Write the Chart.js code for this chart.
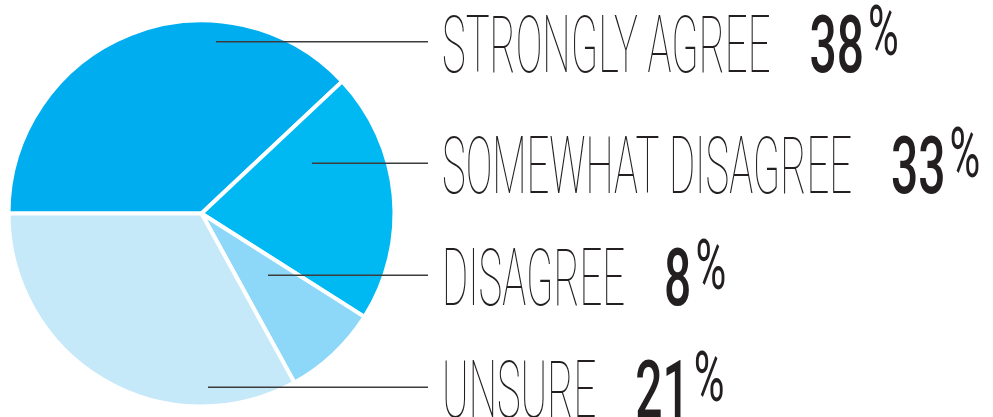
<!DOCTYPE html>
<html>
<head>
<meta charset="utf-8">
<script src="https://cdn.jsdelivr.net/npm/chart.js@4.4.1/dist/chart.umd.min.js"></script>
<style>
  html, body { margin: 0; padding: 0; background: #fff; }
  #wrap { width: 993px; height: 417px; position: relative; }
</style>
</head>
<body>
<div id="wrap"><canvas id="pie-chart"></canvas></div>
<script>
// slices, clockwise starting from the left (9 o'clock)
const sliceNames = ["Strongly agree", "Somewhat disagree", "Disagree", "Unsure"];
const sliceShares = [38, 21, 8, 33];
const sliceColors = ["#00aeef", "#00b9f2", "#8dd8f8", "#c6e9f9"];

// callout labels, top to bottom, as printed
const calloutLabels = ["STRONGLY AGREE", "SOMEWHAT DISAGREE", "DISAGREE", "UNSURE"];
const calloutPercents = ["38", "33", "8", "21"];

// Pie chart with callouts
(function () {
  const lineStartX = [216, 312, 268, 208];
  const rowY = [41.7, 163.3, 275.3, 387.3];
  const lineEndX = 428;
  const textX = 442;
  const labelScale = 0.5;
  const numScale = 0.6;

  const calloutPlugin = {
    id: "callouts",
    afterDraw(chart) {
      const ctx = chart.ctx;
      ctx.save();
      calloutLabels.forEach((label, i) => {
        const y = rowY[i];
        // leader line
        ctx.strokeStyle = "#3c3c3c";
        ctx.lineWidth = 1.5;
        ctx.beginPath();
        ctx.moveTo(lineStartX[i], y);
        ctx.lineTo(lineEndX, y);
        ctx.stroke();

        const base = y + 29.8;
        ctx.fillStyle = "#231f20";
        ctx.textBaseline = "alphabetic";
        ctx.textAlign = "left";

        // thin condensed label
        ctx.save();
        ctx.font = "100 80px Roboto";
        ctx.translate(textX, base);
        ctx.scale(labelScale, 1);
        ctx.fillText(label, 0, 0);
        const labelW = ctx.measureText(label).width * labelScale;
        ctx.restore();

        // number
        const numX = textX + labelW + 39;
        ctx.save();
        ctx.font = "500 80px Roboto";
        ctx.translate(numX, base);
        ctx.scale(numScale, 1);
        ctx.fillText(calloutPercents[i], 0, 0);
        const numW = ctx.measureText(calloutPercents[i]).width * numScale;
        ctx.restore();

        // raised percent sign
        ctx.save();
        ctx.font = "400 70px Roboto";
        ctx.translate(numX + numW + 4, y + 13.5);
        ctx.scale(0.6, 1);
        ctx.fillText("%", 0, 0);
        ctx.restore();
      });
      ctx.restore();
    },
  };

  const pieElement = document.getElementById("pie-chart");
  new Chart(pieElement, {
    type: "pie",
    data: {
      labels: sliceNames,
      datasets: [
        {
          data: sliceShares,
          backgroundColor: sliceColors,
          borderColor: "#ffffff",
          borderWidth: 4,
          radius: 193,
        },
      ],
    },
    options: {
      responsive: true,
      maintainAspectRatio: false,
      animation: false,
      rotation: -90,
      layout: { padding: { left: 0, right: 590, top: 10, bottom: 0 } },
      plugins: {
        legend: { display: false },
        tooltip: { enabled: false },
      },
    },
    plugins: [calloutPlugin],
  });
})();
</script>
</body>
</html>
